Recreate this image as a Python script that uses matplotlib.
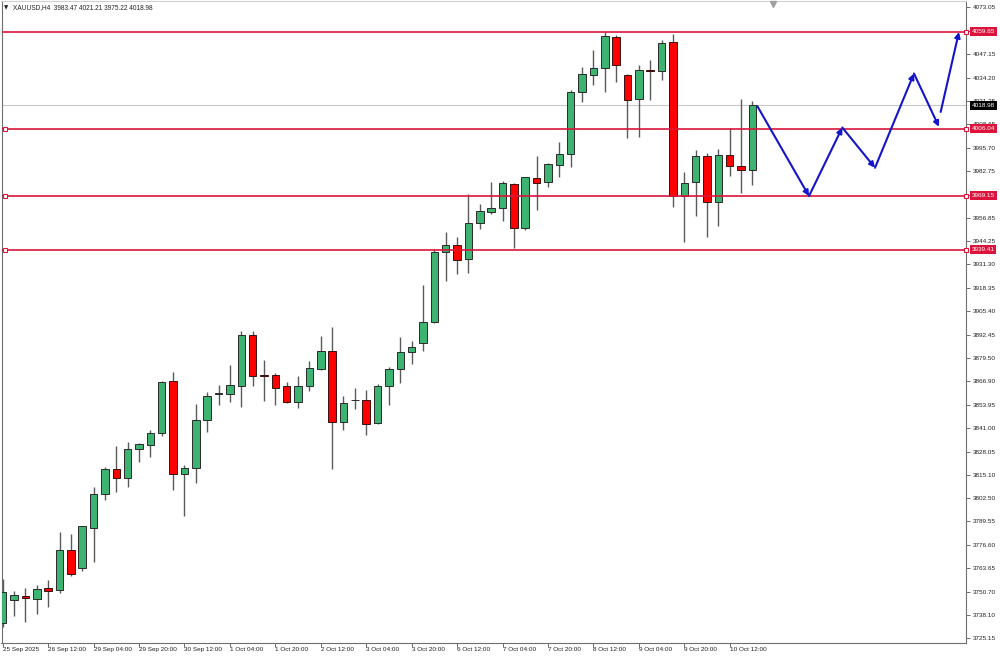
import numpy as np
import matplotlib
matplotlib.use("Agg")
import matplotlib.pyplot as plt
from matplotlib.transforms import blended_transform_factory

plt.rcParams['font.family'] = ['Liberation Sans', 'DejaVu Sans']

# XAUUSD H4 candles (open, high, low, close), oldest first
opens = [3733.4, 3746.2, 3748.6, 3747.0, 3752.7, 3751.6, 3773.7, 3763.8, 3786.0, 3804.6,
         3818.2, 3813.4, 3829.6, 3831.5, 3838.4, 3866.8, 3815.8, 3819.1, 3845.7, 3860.0,
         3859.6, 3864.4, 3892.5, 3870.3, 3870.3, 3864.0, 3855.4, 3864.0, 3873.8, 3883.8,
         3844.2, 3856.3, 3856.5, 3843.6, 3864.0, 3873.8, 3883.1, 3887.9, 3899.8, 3938.3,
         3942.0, 3934.2, 3954.0, 3960.0, 3962.6, 3975.6, 3951.2, 3978.7, 3976.5, 3986.2,
         3992.1, 4026.3, 4036.0, 4039.6, 4056.7, 4036.0, 4022.8, 4038.7, 4038.0, 4053.8,
         3969.0, 3976.9, 3991.0, 3965.9, 3991.6, 3985.7, 3983.47]
highs = [3758.0, 3751.0, 3753.0, 3754.7, 3757.0, 3783.6, 3782.8, 3787.2, 3808.6, 3819.6,
         3831.4, 3833.4, 3832.9, 3840.2, 3867.2, 3871.7, 3820.9, 3854.5, 3860.7, 3864.8,
         3875.6, 3894.8, 3894.8, 3878.7, 3871.4, 3866.2, 3869.5, 3878.2, 3891.9, 3896.7,
         3858.9, 3863.1, 3862.0, 3865.3, 3874.7, 3891.2, 3889.2, 3920.0, 3939.6, 3949.3,
         3946.6, 3970.1, 3964.6, 3976.9, 3977.3, 3976.3, 3979.6, 3991.0, 3987.3, 3998.9,
         4027.4, 4040.2, 4049.4, 4059.4, 4058.0, 4036.4, 4041.1, 4043.9, 4055.3, 4058.2,
         3982.4, 3994.3, 3992.5, 3994.7, 4006.3, 4022.8, 4021.21]
lows = [3731.5, 3737.1, 3733.8, 3738.3, 3742.3, 3750.3, 3759.6, 3762.4, 3767.1, 3801.1,
        3805.7, 3808.6, 3822.2, 3825.2, 3836.9, 3806.8, 3792.5, 3810.8, 3838.9, 3853.9,
        3855.2, 3852.7, 3864.0, 3855.8, 3853.9, 3855.0, 3852.1, 3861.3, 3872.8, 3818.7,
        3840.2, 3851.6, 3837.4, 3843.0, 3853.9, 3865.9, 3876.5, 3883.3, 3898.9, 3922.4,
        3926.1, 3926.8, 3950.8, 3958.9, 3955.4, 3940.5, 3950.5, 3961.3, 3973.8, 3979.6,
        3984.8, 4020.9, 4030.5, 4026.4, 4031.9, 4000.8, 4001.7, 4021.9, 4032.9, 3963.1,
        3943.8, 3958.0, 3946.6, 3952.5, 3980.0, 3970.5, 3975.22]
closes = [3750.8, 3748.8, 3747.1, 3752.5, 3751.4, 3773.7, 3760.4, 3786.8, 3804.6, 3818.2,
          3813.4, 3829.6, 3832.5, 3838.4, 3866.6, 3815.8, 3819.1, 3845.7, 3858.9, 3860.5,
          3864.6, 3892.5, 3869.9, 3870.0, 3863.1, 3855.4, 3864.0, 3874.2, 3883.8, 3844.2,
          3854.9, 3856.6, 3843.3, 3864.2, 3873.4, 3883.1, 3886.0, 3899.8, 3938.3, 3942.0,
          3933.8, 3954.0, 3960.9, 3962.6, 3976.0, 3951.2, 3979.3, 3976.3, 3986.5, 3992.1,
          4026.4, 4036.2, 4039.6, 4057.1, 4041.1, 4022.2, 4038.7, 4037.8, 4053.4, 3969.0,
          3976.0, 3991.0, 3965.9, 3991.6, 3985.7, 3983.3, 4018.98]

date_labels = ['25 Sep 2025', '26 Sep 12:00', '29 Sep 04:00', '29 Sep 20:00', '30 Sep 12:00',
               '1 Oct 04:00', '1 Oct 20:00', '2 Oct 12:00', '3 Oct 04:00', '3 Oct 20:00',
               '6 Oct 12:00', '7 Oct 04:00', '7 Oct 20:00', '8 Oct 12:00', '9 Oct 04:00',
               '9 Oct 20:00', '10 Oct 12:00']
price_ticks = [4073.05, 4060.10, 4047.15, 4034.20, 4021.25, 4008.65, 3995.70, 3982.75,
               3969.80, 3956.85, 3944.25, 3931.30, 3918.35, 3905.40, 3892.45, 3879.50,
               3866.90, 3853.95, 3841.00, 3828.05, 3815.10, 3802.50, 3789.55, 3776.60,
               3763.65, 3750.70, 3738.10, 3725.15]

# horizontal levels and the forecast zigzag (bar index, price)
levels = [4059.65, 4006.04, 3969.15, 3939.41]
last_price = 4018.98
path_x = [66.43, 70.98, 73.91, 76.79, 80.22, 82.42]
path_y = [4018.6, 3969.0, 4006.8, 3984.6, 4036.6, 4007.2]
last_leg_x = [82.57, 84.18]
last_leg_y = [4015.4, 4059.5]

RED = '#dc143c'
BLUE = '#1414c8'

fig = plt.figure(figsize=(10, 6.57), dpi=100)
ax = fig.add_axes([0.0015, 0.02207, 0.9645, 0.97641])

n = len(opens)
x = np.arange(n)
o = np.array(opens); h = np.array(highs); l = np.array(lows); c = np.array(closes)
up = c >= o

ax.vlines(x, l, h, color='#5a5a5a', lw=1.0, zorder=2)
body_lo = np.minimum(o, c)
body_h = np.maximum(np.abs(c - o), 0.4)
ax.bar(x[up], body_h[up], bottom=body_lo[up], width=0.66, color='#3cb371',
       edgecolor='#2a2a2a', lw=0.7, zorder=3)
ax.bar(x[~up], body_h[~up], bottom=body_lo[~up], width=0.66, color='#ff0000',
       edgecolor='#3a1010', lw=0.7, zorder=3)

# current price line
ax.axhline(last_price, color='#c8c8c8', lw=0.8, zorder=1)

# support / resistance lines with handles
bt = blended_transform_factory(ax.transAxes, ax.transData)
for i, lv in enumerate(levels):
    ax.axhline(lv, color=RED, lw=1.2, zorder=4)
    ax.plot([1.0], [lv], marker='s', ms=3.2, mfc='white', mec=RED, mew=0.8,
            transform=bt, clip_on=False, zorder=6)
    if i > 0:
        ax.plot([0.0036], [lv], marker='s', ms=3.2, mfc='white', mec=RED, mew=0.8,
                transform=bt, clip_on=False, zorder=6)
    ax.text(1.0057, lv, f'{lv:.2f}', transform=bt, ha='left', va='center',
            fontsize=4.6, color='white', clip_on=False, zorder=7,
            bbox=dict(boxstyle='square,pad=0.3', fc=RED, ec='none'))

ax.text(1.0057, last_price, f'{last_price:.2f}', transform=bt, ha='left', va='center',
        fontsize=4.6, color='white', clip_on=False, zorder=7,
        bbox=dict(boxstyle='square,pad=0.3', fc='black', ec='none'))

# forecast arrows
for k in range(len(path_x) - 1):
    ax.annotate('', xy=(path_x[k + 1], path_y[k + 1]), xytext=(path_x[k], path_y[k]),
                arrowprops=dict(arrowstyle='-|>', color=BLUE, lw=1.5,
                                mutation_scale=8, shrinkA=0, shrinkB=0), zorder=8)
ax.annotate('', xy=(last_leg_x[1], last_leg_y[1]), xytext=(last_leg_x[0], last_leg_y[0]),
            arrowprops=dict(arrowstyle='-|>', color=BLUE, lw=1.5,
                            mutation_scale=8, shrinkA=0, shrinkB=0), zorder=8)

ax.set_xlim(-0.106, 84.80)
ax.set_ylim(3722.74, 4076.59)

ax.yaxis.tick_right()
ax.set_yticks(price_ticks)
ax.set_yticklabels([f'{v:.2f}' for v in price_ticks])
ax.tick_params(axis='y', length=3, width=0.6, color='#555555', labelsize=4.6,
               labelcolor='#222222', pad=2.2)
ax.set_xticks(np.arange(0, 4 * len(date_labels), 4))
ax.set_xticklabels(date_labels)
ax.tick_params(axis='x', length=3, width=0.6, color='#555555', labelsize=4.6,
               labelcolor='#222222', pad=0)
for t in ax.get_xticklabels():
    t.set_ha('left')

for s in ['left', 'right', 'bottom', 'top']:
    ax.spines[s].set_color('#6e6e6e')
    ax.spines[s].set_linewidth(0.8)
ax.spines['top'].set_color('#d0d0d0')

# chart shift marker
ax.plot([0.80], [0.995], marker='v', ms=4, color='#a0a0a0', transform=ax.transAxes,
        clip_on=False, zorder=9)

fig.text(0.004, 1 - 8 / 657, '\u25bc', fontsize=4, va='center', ha='left',
         family=['DejaVu Sans'], color='#222222')
fig.text(0.013, 1 - 8 / 657, 'XAUUSD,H4  3983.47 4021.21 3975.22 4018.98',
         fontsize=4.7, va='center', ha='left', color='#222222')

fig.savefig('out.png', dpi=100, facecolor='white')
